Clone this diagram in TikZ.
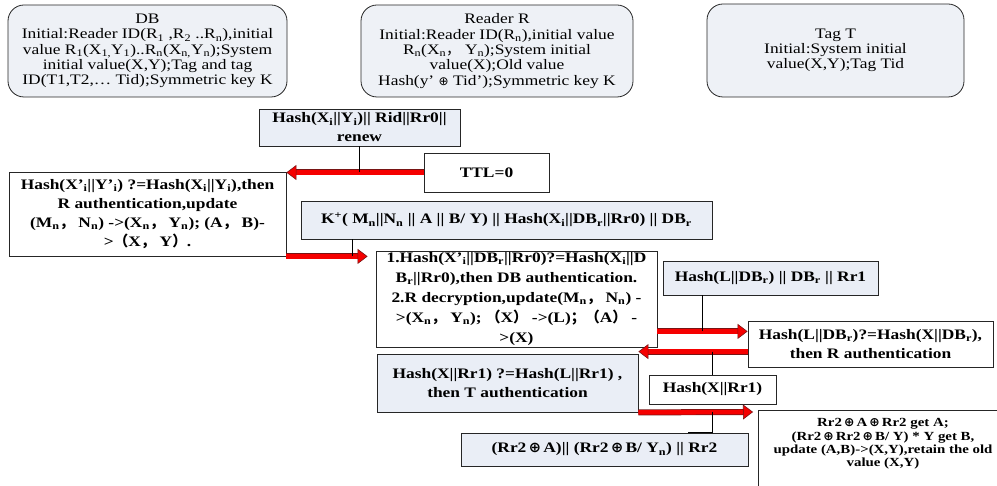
\documentclass[tikz,border=0pt]{standalone}
\usepackage{fontspec}
\setmainfont{Liberation Serif}[FakeStretch=1.2]
\newfontfamily\cjk{Noto Sans CJK SC}
\newfontfamily\symf{DejaVu Sans}
\usetikzlibrary{arrows.meta,calc}
\definecolor{boxfill}{RGB}{234,238,246}
\definecolor{topfill}{RGB}{238,241,246}
\definecolor{arrred}{RGB}{245,0,0}
\definecolor{arredge}{RGB}{120,20,20}
\newcommand\sbs[1]{\textsubscript{#1}}
\newcommand\cj[1]{{\cjk #1}}
\newcommand\xo{{\symf ⊕}}
\begin{document}
\begin{tikzpicture}[x=1pt,y=-1pt,
  base/.style={draw=black!85, line width=0.8pt, inner sep=0pt, align=center, text=black},
  topbox/.style={base, fill=topfill, rounded corners=16pt, font=\fontsize{14.5}{15.3}\selectfont},
  msgbox/.style={base, fill=boxfill, font=\fontsize{14.5}{19}\selectfont\bfseries},
  opbox/.style={base, fill=white, font=\fontsize{14.5}{19}\selectfont\bfseries},
  link/.style={draw=black, line width=0.8pt},
  redarrow/.style={draw=arrred, line width=4.6pt,
    -{Triangle[length=10pt,width=15pt,line width=0.6pt,color=arredge,fill=arrred]},
    preaction={draw=arredge, line width=6pt, arrows=-, shorten >=9pt}}]
\useasboundingbox (0,0) rectangle (997,486);

% top participants
\node[topbox, minimum width=279, minimum height=92] (db) at (147.5,51)
  {DB\\ Initial:Reader ID(R\sbs{1} ,R\sbs{2} ..R\sbs{n}),initial\\
   value R\sbs{1}(X\sbs{1,}Y\sbs{1})..R\sbs{n}(X\sbs{n,}Y\sbs{n});System\\
   initial value(X,Y);Tag and tag\\ ID(T1,T2,… Tid);Symmetric key K};
\node[topbox, minimum width=272, minimum height=92] (rdr) at (497,51)
  {Reader R\\ Initial:Reader ID(R\sbs{n}),initial value\\
   R\sbs{n}(X\sbs{n}\cj{，} Y\sbs{n});System initial\\ value(X);Old value\\
   Hash(y’ {\fontsize{12}{12}\selectfont\xo} Tid’);Symmetric key K};
\node[topbox, minimum width=257, minimum height=93] (tag) at (835.5,50.5)
  {Tag T\\ Initial:System initial\\ value(X,Y);Tag Tid};

% messages and operations
\node[msgbox, minimum width=201, minimum height=37] (m1) at (359.5,127.5)
  {Hash(X\sbs{i}||Y\sbs{i})|| Rid||Rr0||\\ renew};
\node[opbox, minimum width=125, minimum height=39] (ttl) at (486.5,172.5) {TTL=0};
\node[opbox, minimum width=277, minimum height=84] (lbox) at (147.5,214)
  {Hash(X’\sbs{i}||Y’\sbs{i}) ?=Hash(X\sbs{i}||Y\sbs{i}),then\\
   R authentication,update\\
   (M\sbs{n}\cj{，} N\sbs{n}) ->(X\sbs{n}\cj{，} Y\sbs{n}); (A\cj{，} B)-\\
   >\cj{（}X\cj{，} Y\cj{）}.};
\node[msgbox, minimum width=411, minimum height=38] (kbox) at (506.5,220)
  {K\textsuperscript{+}( M\sbs{n}||N\sbs{n} || A || B/ Y) || Hash(X\sbs{i}||DB\sbs{r}||Rr0) || DB\sbs{r}};
\node[opbox, minimum width=281, minimum height=96, font=\fontsize{14.5}{20}\selectfont\bfseries] (b1) at (516.5,299)
  {1.Hash(X’\sbs{i}||DB\sbs{r}||Rr0)?=Hash(X\sbs{i}||D\\
   B\sbs{r}||Rr0),then DB authentication.\\
   2.R decryption,update(M\sbs{n}\cj{，} N\sbs{n}) -\\
   >(X\sbs{n}\cj{，} Y\sbs{n}); \cj{（}X\cj{）} ->(L)\cj{；}\cj{（}A\cj{）} -\\ >(X)};
\node[msgbox, minimum width=215, minimum height=34] (hl) at (770.5,278)
  {Hash(L||DB\sbs{r}) || DB\sbs{r} || Rr1};
\node[opbox, minimum width=245, minimum height=46] (rauth) at (870.5,344)
  {Hash(L||DB\sbs{r})?=Hash(X||DB\sbs{r}),\\ then R authentication};
\node[msgbox, minimum width=261, minimum height=58] (tauth) at (507.5,383)
  {Hash(X||Rr1) ?=Hash(L||Rr1) ,\\ then T authentication};
\node[opbox, minimum width=127, minimum height=29] (hx) at (712.5,389.5) {Hash(X||Rr1)};
\node[msgbox, minimum width=287, minimum height=33] (rr2) at (604.5,449.5)
  {(Rr2\,\xo\,A)|| (Rr2\,\xo\,B/ Y\sbs{n}) || Rr2};
\node[opbox, minimum width=258, minimum height=90, anchor=north west] (final) at (758,410) {};
\node[inner sep=0pt, align=center, font=\fontsize{12.4}{13.4}\selectfont\bfseries] (finaltxt) at (883,444)
  {Rr2\,\xo\,A\,\xo\,Rr2 get A;\\ (Rr2\,\xo\,Rr2\,\xo\,B/ Y) * Y get B,\\
   update (A,B)->(X,Y),retain the old\\ value (X,Y)};

% connectors
\draw[redarrow] (ttl.west) -- (ttl.west -| lbox.east);
\draw[link] (m1.south) -- (m1.south |- ttl.west);

\coordinate (a2e) at ($(b1.west |- lbox.south)+(-8,0)$);
\draw[redarrow] (lbox.south east) -- (a2e);
\coordinate (k1) at ($(kbox.south west)+(52,0)$);
\draw[link] (k1) -- (k1 |- lbox.south);

\coordinate (a3s) at ($(b1.south east)+(0,-16)$);
\draw[redarrow] (a3s) -- (a3s -| rauth.west);
\coordinate (h1) at ($(hl.south west)+(40,0)$);
\draw[link] (h1) -- (h1 |- a3s);

\coordinate (a4s) at ($(rauth.north west)+(0,31)$);
\draw[redarrow] (a4s) -- (a4s -| tauth.east);
\draw[link] (hx.north |- a4s) -- (hx.north);

\coordinate (a5e) at ($(final.north west)+(-5,2)$);
\draw[redarrow] (tauth.south east) -- (a5e);
\draw[link] (hx.south |- tauth.south east) -- (hx.south |- rr2.north) -- ++(-25,0);
\end{tikzpicture}
\end{document}
